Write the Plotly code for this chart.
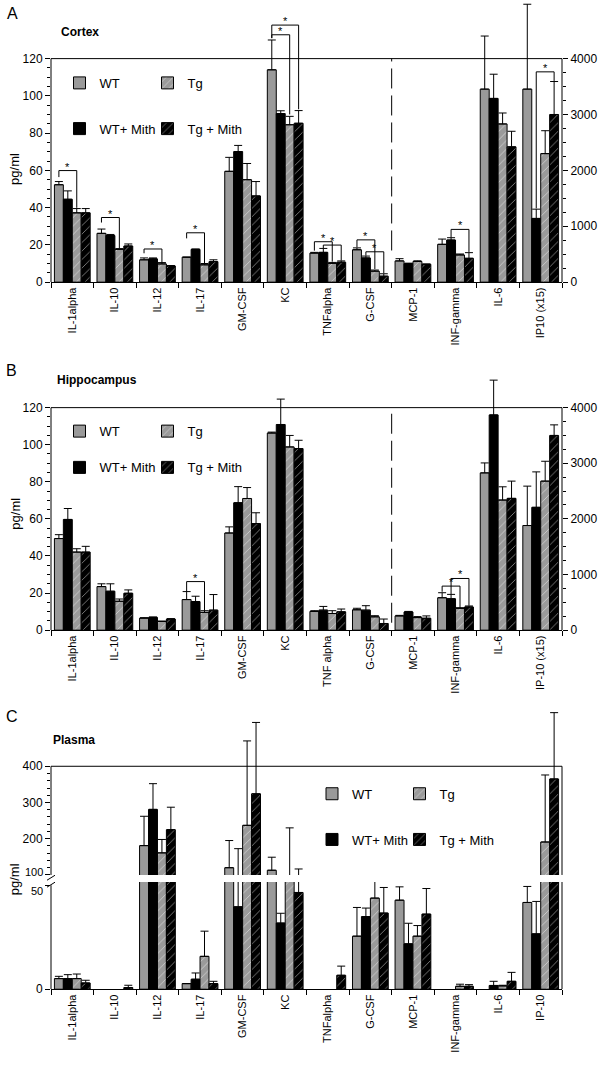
import plotly.graph_objects as go

W, H = 600, 1074
def fx(p): return p / W
def fy(p): return 1 - p / H

GRAY = '#9a9a9a'
BLACK = '#000000'
FONT = 'Liberation Sans, Arial, sans-serif'

SERIES = ['WT', 'WT+ Mith', 'Tg', 'Tg + Mith']

# ---------------- Panel A: Cortex ----------------
A_left_cats = ['IL-1alpha', 'IL-10', 'IL-12', 'IL-17', 'GM-CSF', 'KC', 'TNFalpha', 'G-CSF']
A_right_cats = ['MCP-1', 'INF-gamma', 'IL-6', 'IP10 (x15)']
A_L_WT = [52.3, 26.2, 12.0, 13.4, 59.5, 114.0, 15.6, 17.4]
A_L_WT_err = [1.7, 2.3, 1.0, 0.0, 7.5, 16.0, 0.4, 1.0]
A_L_WTM = [44.5, 25.0, 12.5, 17.6, 70.1, 90.5, 16.0, 13.0]
A_L_WTM_err = [4.5, 0.6, 0.5, 0.2, 3.3, 1.5, 2.1, 1.0]
A_L_TG = [37.2, 17.6, 9.8, 9.3, 55.0, 84.5, 10.1, 5.9]
A_L_TG_err = [2.3, 0.4, 0.7, 0.7, 8.7, 4.5, 0.5, 0.6]
A_L_TGM = [37.2, 19.4, 8.7, 11.0, 46.3, 85.3, 10.7, 3.2]
A_L_TGM_err = [2.3, 1.1, 0.2, 1.0, 7.7, 6.8, 0.7, 1.3]
A_R_WT = [380, 677, 3454, 3454]
A_R_WT_err = [40, 94, 950, 1519]
A_R_WTM = [330, 754, 3288, 1140]
A_R_WTM_err = [10, 41, 433, 166]
A_R_TG = [370, 487, 2831, 2300]
A_R_TG_err = [12, 17, 196, 410]
A_R_TGM = [320, 427, 2421, 3000]
A_R_TGM_err = [5, 101, 279, 590]

# ---------------- Panel B: Hippocampus ----------------
B_left_cats = ['IL-1alpha', 'IL-10', 'IL-12', 'IL-17', 'GM-CSF', 'KC', 'TNF alpha', 'G-CSF']
B_right_cats = ['MCP-1', 'INF-gamma', 'IL-6', 'IP-10 (x15)']
B_L_WT = [49.4, 23.5, 6.5, 16.5, 52.4, 106.3, 10.1, 11.0]
B_L_WT_err = [2.1, 1.5, 0.2, 4.3, 3.3, 0.5, 0.4, 0.8]
B_L_WTM = [59.7, 21.0, 6.9, 15.4, 68.7, 110.9, 10.8, 10.8]
B_L_WTM_err = [5.9, 4.0, 0.2, 2.9, 8.7, 13.7, 2.0, 2.4]
B_L_TG = [42.1, 15.6, 4.7, 9.6, 71.0, 98.8, 9.0, 7.2]
B_L_TG_err = [1.8, 1.2, 0.2, 0.9, 5.9, 6.2, 1.5, 0.6]
B_L_TGM = [42.1, 19.9, 6.0, 10.8, 57.5, 97.9, 9.9, 3.6]
B_L_TGM_err = [3.1, 1.8, 0.2, 8.4, 5.8, 4.5, 1.5, 2.4]
B_R_WT = [256, 583, 2827, 1881]
B_R_WT_err = [10, 90, 179, 708]
B_R_WTM = [327, 565, 3869, 2208]
B_R_WTM_err = [10, 78, 625, 637]
B_R_TG = [226, 393, 2339, 2679]
B_R_TG_err = [18, 10, 238, 357]
B_R_TGM = [214, 417, 2369, 3500]
B_R_TGM_err = [42, 18, 310, 190]

# ---------------- Panel C: Plasma ----------------
C_cats = ['IL-1alpha', 'IL-10', 'IL-12', 'IL-17', 'GM-CSF', 'KC', 'TNFalpha', 'G-CSF',
          'MCP-1', 'INF-gamma', 'IL-6', 'IP-10']
C_WT = [5.1, None, 181, 2.7, 120, 113, None, 25.5, 42.8, None, None, 41.7]
C_WT_err = [1.1, 0, 81, 0, 75, 36, 0, 13.8, 6.4, 0, 0, 7.7]
C_WTM = [5.1, None, 281, 4.8, 39.6, 31.8, None, 34.9, 21.8, None, 1.8, 26.6]
C_WTM_err = [1.9, 0, 71, 3.0, 133, 4.7, 0, 4.1, 9.9, 0, 2.0, 15.6]
C_TG = [5.1, None, 161, 15.8, 237, 60, None, 43.8, 25.5, 1.4, 1.6, 191]
C_TG_err = [2.2, 0, 37, 12.1, 233, 170, 0, 8.0, 5.1, 1.0, 0.3, 185]
C_TGM = [3.0, 0.8, 225, 2.7, 324, 46.5, 6.7, 36.6, 36.1, 1.4, 3.8, 365]
C_TGM_err = [1.3, 1.1, 62, 1.1, 197, 70, 4.4, 12.3, 12.3, 0.8, 4.3, 183]

STYLE = {
    'WT': (GRAY, False),
    'WT+ Mith': (BLACK, False),
    'Tg': (GRAY, True),
    'Tg + Mith': (BLACK, True),
}

BARGAP = 0.16
BW = (1 - BARGAP) / 4
OFF = [-(1 - BARGAP) / 2 + (k + 0.5) * BW for k in range(4)]

fig = go.Figure()

def add_bar(name, x, y, err, xaxis, yaxis, legend=None):
    color, hatched = STYLE[name]
    marker = dict(color=color, line=dict(color='black', width=1))
    if hatched:
        marker['pattern'] = dict(shape='/', fgcolor='white', bgcolor=color, size=6, solidity=0.15)
    kw = dict(showlegend=False)
    if legend is not None:
        kw = dict(showlegend=True, legend=legend)
    fig.add_trace(go.Bar(
        name=name, x=x, y=y, xaxis=xaxis, yaxis=yaxis, marker=marker,
        error_y=dict(type='data', symmetric=False, array=err, arrayminus=[0] * len(err),
                     color='black', thickness=1, width=4),
        **kw))

leg_ids = iter(['legend'] + ['legend%d' % i for i in range(2, 13)])
leg_map = {}

panelA_L = [(A_L_WT, A_L_WT_err), (A_L_WTM, A_L_WTM_err), (A_L_TG, A_L_TG_err), (A_L_TGM, A_L_TGM_err)]
panelA_R = [(A_R_WT, A_R_WT_err), (A_R_WTM, A_R_WTM_err), (A_R_TG, A_R_TG_err), (A_R_TGM, A_R_TGM_err)]
panelB_L = [(B_L_WT, B_L_WT_err), (B_L_WTM, B_L_WTM_err), (B_L_TG, B_L_TG_err), (B_L_TGM, B_L_TGM_err)]
panelB_R = [(B_R_WT, B_R_WT_err), (B_R_WTM, B_R_WTM_err), (B_R_TG, B_R_TG_err), (B_R_TGM, B_R_TGM_err)]
panelC = [(C_WT, C_WT_err), (C_WTM, C_WTM_err), (C_TG, C_TG_err), (C_TGM, C_TGM_err)]

for i, s in enumerate(SERIES):
    lid = next(leg_ids); leg_map[('A', s)] = lid
    add_bar(s, A_left_cats, panelA_L[i][0], panelA_L[i][1], 'x', 'y', lid)
    add_bar(s, A_right_cats, panelA_R[i][0], panelA_R[i][1], 'x', 'y2')
for i, s in enumerate(SERIES):
    lid = next(leg_ids); leg_map[('B', s)] = lid
    add_bar(s, B_left_cats, panelB_L[i][0], panelB_L[i][1], 'x2', 'y3', lid)
    add_bar(s, B_right_cats, panelB_R[i][0], panelB_R[i][1], 'x2', 'y4')
for i, s in enumerate(SERIES):
    lid = next(leg_ids); leg_map[('C', s)] = lid
    add_bar(s, C_cats, panelC[i][0], panelC[i][1], 'x3', 'y5', lid)
    add_bar(s, C_cats, panelC[i][0], panelC[i][1], 'x3', 'y6')

# ---------------- geometry (pixels) ----------------
X0, X1 = 51, 562
A_bot, A_120, A_top = 284, 59, 2
B_bot, B_120, B_top = 634.3, 410.3, 376
C_bot, C_lowtop = 995.7, 887.7
C_100, C_400, C_top = 880.7, 771.3, 712

A_max = 120 * (A_bot - A_top) / (A_bot - A_120)
B_max = 120 * (B_bot - B_top) / (B_bot - B_120)
C_low_max = 50 * (C_bot - C_lowtop) / (C_bot - 891.0)
C_up_max = 100 + 300 * (C_100 - C_top) / (C_100 - C_400)

tickfont = dict(family=FONT, size=12, color='black')
xtickfont = dict(family=FONT, size=11, color='black')

def xax(domain_anchor, cats):
    return dict(domain=[fx(X0), fx(X1)], anchor=domain_anchor, type='category',
                categoryorder='array', categoryarray=cats, range=[-0.5, len(cats) - 0.5],
                showline=True, linecolor='black', linewidth=1, ticks='outside', ticklen=5,
                tickcolor='black', tickson='boundaries', tickangle=-90, tickfont=xtickfont,
                showgrid=False, zeroline=False, fixedrange=True)

def yax(domain, rng, tickvals, minorvals, side='left', anchor='x', overlaying=None,
        ticktext=None):
    d = dict(domain=domain, range=rng, tickvals=tickvals,
             ticktext=ticktext if ticktext is not None else [str(v) for v in tickvals],
             ticks='outside', ticklen=5, tickcolor='black', tickfont=tickfont, showline=False,
             showgrid=False, zeroline=False, side=side, anchor=anchor, fixedrange=True,
             minor=dict(tickvals=minorvals, ticks='outside', ticklen=3, tickcolor='black', showgrid=False))
    if overlaying:
        d['overlaying'] = overlaying
    return d

left_ticks = [0, 20, 40, 60, 80, 100, 120]
left_minor = [v for v in range(5, 120, 5) if v % 20]
right_ticks = [0, 1000, 2000, 3000, 4000]
right_minor = [v for v in range(250, 4000, 250) if v % 1000]
c_up_ticks = [100, 200, 300, 400]
c_low_ticks = [0, 50]

fig.update_layout(
    xaxis=xax('y', A_left_cats + A_right_cats),
    yaxis=yax([fy(A_bot), fy(A_top)], [0, A_max], left_ticks, left_minor),
    yaxis2=yax([fy(A_bot), fy(A_top)], [0, A_max * 4000 / 120], right_ticks, right_minor,
               side='right', overlaying='y'),
    xaxis2=xax('y3', B_left_cats + B_right_cats),
    yaxis3=yax([fy(B_bot), fy(B_top)], [0, B_max], left_ticks, left_minor, anchor='x2'),
    yaxis4=yax([fy(B_bot), fy(B_top)], [0, B_max * 4000 / 120], right_ticks, right_minor,
               side='right', anchor='x2', overlaying='y3'),
    xaxis3=xax('y5', C_cats),
    yaxis5=yax([fy(C_bot), fy(C_lowtop)], [0, C_low_max], c_low_ticks, [], anchor='x3',
               ticktext=['0', '']),
    yaxis6=yax([fy(C_100), fy(C_top)], [100, C_up_max], c_up_ticks,
               [v for v in range(120, 400, 20) if v % 100], anchor='x3',
               ticktext=[''] + [str(v) for v in c_up_ticks[1:]]),
)

shapes = []
def L(x0, y0, x1, y1, xref, yref, dash=None, width=1):
    shapes.append(dict(type='line', x0=x0, y0=y0, x1=x1, y1=y1, xref=xref, yref=yref,
                       line=dict(color='black', width=width, dash=dash)))

# frames A and B
for xa, yl in [('x', 'y'), ('x2', 'y3')]:
    L(0, 0, 0, 120, xa + ' domain', yl)
    L(1, 0, 1, 120, xa + ' domain', yl)
    L(0, 120, 1, 120, xa + ' domain', yl)
L(7.5, 17, 7.5, 120, 'x', 'y', dash='20px,7px')
L(7.5, 4, 7.5, 120, 'x2', 'y3', dash='20px,7px')

# frame C (broken axis)
L(0, 0, 0, 50, 'x3 domain', 'y5')
L(0, 100, 0, 400, 'x3 domain', 'y6')
L(0, 400, 1, 400, 'x3 domain', 'y6')
L(1, 0, 1, C_low_max, 'x3 domain', 'y5')
L(1, 100, 1, 400, 'x3 domain', 'y6')
# axis break marks
L(fx(47), fy(886), fx(55), fy(881), 'paper', 'paper')
L(fx(47), fy(893), fx(55), fy(888), 'paper', 'paper')

annotations = []
def bracket(xa, ya, cat, kl, kr, ytop, ybl, ybr):
    xl, xr = cat + OFF[kl], cat + OFF[kr]
    L(xl, ybl, xl, ytop, xa, ya)
    L(xl, ytop, xr, ytop, xa, ya)
    L(xr, ytop, xr, ybr, xa, ya)
    annotations.append(dict(x=(xl + xr) / 2, y=ytop, xref=xa, yref=ya, text='*', showarrow=False,
                            yanchor='bottom', yshift=-4, font=dict(family=FONT, size=11, color='#000000')))

# Panel A significance brackets
bracket('x', 'y', 0, 0, 2, 59.9, 56.4, 39.9)
bracket('x', 'y', 1, 0, 2, 34.7, 32.0, 18.2)
bracket('x', 'y', 2, 0, 2, 17.8, 15.5, 10.5)
bracket('x', 'y', 3, 0, 2, 26.5, 23.5, 10.1)
bracket('x', 'y', 5, 0, 2, 132.8, 131.0, 90.0)
bracket('x', 'y', 5, 0, 3, 138.0, 131.0, 92.8)
bracket('x', 'y', 6, 0, 2, 21.7, 16.9, 11.0)
bracket('x', 'y', 6, 1, 3, 19.9, 18.3, 11.6)
bracket('x', 'y', 7, 0, 2, 22.7, 18.7, 7.0)
bracket('x', 'y', 7, 1, 3, 16.3, 14.2, 4.8)
bracket('x', 'y2', 9, 1, 3, 944, 800, 540)
bracket('x', 'y2', 11, 1, 3, 3763, 1320, 3600)
# Panel B
bracket('x2', 'y3', 3, 0, 2, 26.2, 20.8, 10.5)
bracket('x2', 'y4', 9, 0, 2, 792, 690, 400)
bracket('x2', 'y4', 9, 1, 3, 929, 650, 440)

def txt(x, y, s, size, bold=False, xanchor='left', angle=0):
    annotations.append(dict(x=fx(x), y=fy(y), xref='paper', yref='paper', text=('<b>%s</b>' % s) if bold else s,
                            showarrow=False, xanchor=xanchor, yanchor='middle', textangle=angle,
                            font=dict(family=FONT, size=size, color='black')))

txt(12, 14, 'A', 16, xanchor='center')
txt(59, 32, 'Cortex', 12, bold=True)
txt(11, 373, 'B', 16, xanchor='center')
txt(55, 382, 'Hippocampus', 12, bold=True)
txt(12, 721, 'C', 16, xanchor='center')
txt(51, 745, 'Plasma', 12, bold=True)
txt(15, 170, 'pg/ml', 13, xanchor='center', angle=-90)
txt(16, 517, 'pg/ml', 13, xanchor='center', angle=-90)
txt(14, 885, 'pg/ml', 13, xanchor='center', angle=-90)
# broken-axis labels placed apart so they do not collide
annotations.append(dict(x=0, y=100, xref='x3 domain', yref='y6', text='100', showarrow=False,
                        xanchor='right', yanchor='bottom', xshift=-6, yshift=-5,
                        font=dict(family=FONT, size=11, color='black')))
annotations.append(dict(x=0, y=50, xref='x3 domain', yref='y5', text='50', showarrow=False,
                        xanchor='right', yanchor='top', xshift=-6, yshift=2,
                        font=dict(family=FONT, size=11, color='black')))

# legends: one per entry, positioned by symbol centre (pixels)
LEG_POS = {
    'A': {'WT': (79.5, 83.5), 'Tg': (167.5, 83.5), 'WT+ Mith': (79.5, 129.5), 'Tg + Mith': (167.5, 129.5)},
    'B': {'WT': (79.5, 434), 'Tg': (167.5, 434), 'WT+ Mith': (79.5, 470.5), 'Tg + Mith': (167.5, 470.5)},
    'C': {'WT': (332, 799), 'Tg': (419.5, 799), 'WT+ Mith': (332, 845), 'Tg + Mith': (419.5, 845)},
}
legends = {}
for (panel, s), lid in leg_map.items():
    cx, cy = LEG_POS[panel][s]
    legends[lid] = dict(x=fx(cx - 20), y=fy(cy), xanchor='left', yanchor='middle',
                        bgcolor='rgba(0,0,0,0)', borderwidth=0,
                        font=dict(family=FONT, size=13, color='black'))

fig.update_layout(**legends)
fig.update_layout(
    width=W, height=H, autosize=False,
    margin=dict(l=0, r=0, t=0, b=0),
    paper_bgcolor='white', plot_bgcolor='white',
    barmode='group', bargap=BARGAP, bargroupgap=0,
    shapes=shapes, annotations=annotations,
    font=dict(family=FONT, color='black'),
    hovermode=False,
)

fig.write_html('out.html', config={'displayModeBar': False, 'staticPlot': False},
               post_script="document.body.style.margin='0';document.body.style.overflow='hidden';")
